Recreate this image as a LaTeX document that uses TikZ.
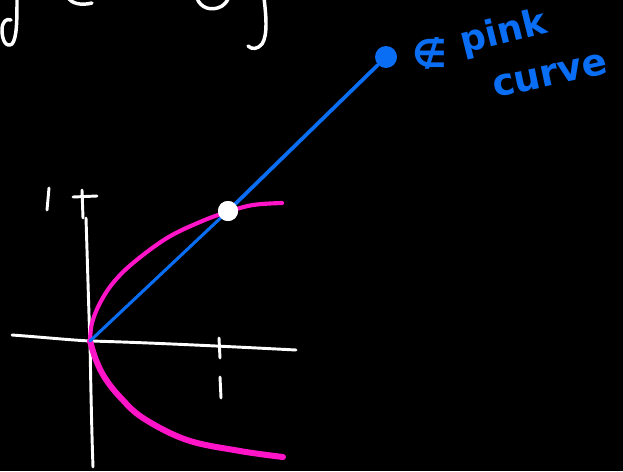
\documentclass[tikz,border=0pt]{standalone}
\usepackage{fontspec}
\newfontfamily\handfont{DejaVu Sans}
\definecolor{pinkc}{HTML}{FF14C8}
\definecolor{bluec}{HTML}{0A6EF5}
\tikzset{
  axis/.style={draw=white, line width=2.2pt, line cap=round, line join=round},
  ink/.style={draw=white, line width=2.6pt, line cap=round, line join=round},
  pinkline/.style={draw=pinkc, line cap=round, line join=round},
  blueline/.style={draw=bluec, line width=2.3pt, line cap=round},
  bluetext/.style={text=bluec, font=\handfont\bfseries\fontsize{27}{27}\selectfont, inner sep=0pt}
}
\begin{document}
\begin{tikzpicture}[x=0.75pt,y=-0.75pt]
\fill[black] (0,0) rectangle (623,471);
\useasboundingbox (0,0) rectangle (623,471);
\clip (0,0) rectangle (623,471);
% cut-off handwriting at the top
\draw[ink] (17,-2) .. controls (17,20) and (17,38) .. (12,44) .. controls (6,48) and (2,40) .. (2,30) .. controls (2,22) and (6,18) .. (11,20);
\draw[ink] (68,-2) .. controls (72,3) and (80,6) .. (92,3);
\draw[ink] (197,-2) .. controls (200,8) and (212,12) .. (222,6) .. controls (226,3) and (228,0) .. (228,-2);
\draw[ink] (264,-2) .. controls (266,15) and (268,35) .. (262,44) .. controls (258,49) and (252,50) .. (248,46);
% axes
\coordinate (O) at (90,341);
\draw[axis] (12,335) .. controls (40,337) and (70,340) .. (O) .. controls (130,342) and (200,345) .. (296,350);
\draw[axis] (86,218) .. controls (88,280) and (89,320) .. (O) .. controls (91,400) and (92,440) .. (93,467);
\draw[axis] (82,190) -- (83,218);
\draw[axis] (73,197) -- (97,196);
\draw[axis] (49,188) -- (47,210);
\draw[axis] (219,338) -- (220,358);
\draw[axis] (220,377) -- (221,398);
% pink curve
\draw[pinkline, line width=3.1pt] plot[smooth, tension=0.6] coordinates {(282,203) (253,205) (227,212) (200,222) (167,238) (133,263) (113,283) (100,303) (92,323) (90,341)};
\draw[pinkline, line width=4.5pt] plot[smooth, tension=0.6] coordinates {(90,341) (96,360) (105,378) (120,397) (143,418) (187,440) (240,451) (283,457)};
% blue line and dots
\node[circle, fill=bluec, minimum size=16.5pt, inner sep=0pt] (B) at (386,57) {};
\node[circle, fill=white, minimum size=15pt, inner sep=0pt] (W) at (228,211) {};
\draw[blueline] (O) -- (W);
\draw[blueline, line width=2.8pt] (W) -- (B);
\node[circle, fill=white, minimum size=15pt, inner sep=0pt] at (228,211) {};
% blue text
\node[bluetext, font=\handfont\bfseries\fontsize{29}{29}\selectfont] (notin) at (430,53) {∉};
\node[bluetext, rotate=14, anchor=base west] (pink) at (463,54) {pink};
\node[bluetext, rotate=12, anchor=base west, font=\handfont\bfseries\fontsize{28}{28}\selectfont] (curve) at (495,98) {curve};
\end{tikzpicture}
\end{document}
